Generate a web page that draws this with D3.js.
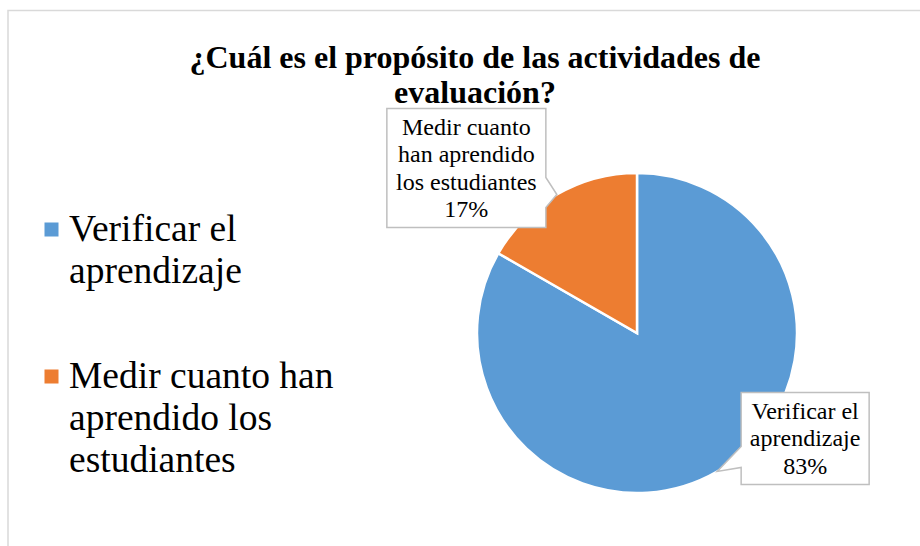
<!DOCTYPE html>
<html>
<head>
<meta charset="utf-8">
<script src="https://cdn.jsdelivr.net/npm/d3@7"></script>
<style>
  html, body { margin: 0; padding: 0; background: #fff; }
  svg { display: block; }
  svg text { font-family: "Liberation Serif", "DejaVu Serif", serif; }
</style>
</head>
<body>
<svg id="chart" width="920" height="546"></svg>
<script>
// datos
const categories = ["Verificar el aprendizaje", "Medir cuanto han aprendido los estudiantes"];
const values = [83.3, 16.7];
const colors = ["#5B9BD5", "#ED7D31"];
const legendLines = [["Verificar el", "aprendizaje"], ["Medir cuanto han", "aprendido los", "estudiantes"]];
const labelLines = [["Verificar el", "aprendizaje"], ["Medir cuanto", "han aprendido", "los estudiantes"]];
const titleLines = ["¿Cuál es el propósito de las actividades de", "evaluación?"];

const FONT = "'Liberation Serif', 'DejaVu Serif', serif";
const svg = d3.select("#chart");

// borde del área del gráfico
svg.append("path")
  .attr("d", "M8,546 V10.5 H920")
  .attr("fill", "none")
  .attr("stroke", "#d9d9d9")
  .attr("stroke-width", 1.5);

// título
svg.append("g").selectAll("text")
  .data(titleLines)
  .enter().append("text")
  .attr("x", 475)
  .attr("y", (_, i) => 68 + i * 35)
  .attr("text-anchor", "middle")
  .attr("font-family", FONT)
  .attr("font-size", 32)
  .attr("font-weight", "bold")
  .attr("fill", "#000")
  .text(d => d);

// pie
const cx = 637, cy = 333, R = 160;
const pie = d3.pie().sort(null).value(d => d)(values);
const arc = d3.arc().innerRadius(0).outerRadius(R);

const g = svg.append("g").attr("transform", `translate(${cx},${cy})`);
g.selectAll("path.slice")
  .data(pie)
  .enter().append("path")
  .attr("class", "slice")
  .attr("d", arc)
  .attr("fill", (_, i) => colors[i])
  .attr("stroke", "#fff")
  .attr("stroke-width", 2.5);

// leyenda
const legend = svg.append("g");
const legendY = [241, 388];
categories.forEach((c, i) => {
  legend.append("rect")
    .attr("x", 44.5).attr("y", legendY[i] - 18.5)
    .attr("width", 14).attr("height", 14)
    .attr("fill", colors[i]);
  legend.append("text")
    .attr("font-family", FONT)
    .attr("font-size", 37.5)
    .attr("fill", "#000")
    .selectAll("tspan")
    .data(legendLines[i])
    .enter().append("tspan")
    .attr("x", 69)
    .attr("y", (_, li) => legendY[i] + li * 42)
    .text(d => d);
});

// etiquetas de datos (callouts)
// caja relativa a la punta (punto del borde en el ángulo medio)
const callouts = [
  { dx: 24, dy: -79, w: 128, h: 92, side: "left", ba: 54, bb: 75 },
  { dx: -170, dy: -86, w: 159, h: 119, side: "right", ba: 69, bb: 99 }
];

pie.forEach((p, i) => {
  const mid = (p.startAngle + p.endAngle) / 2;
  const tx = cx + Math.sin(mid) * R;
  const ty = cy - Math.cos(mid) * R;
  const c = callouts[i];
  const x0 = tx + c.dx, y0 = ty + c.dy, x1 = x0 + c.w, y1 = y0 + c.h;
  let d;
  if (c.side === "left") {
    d = `M${x0},${y0} H${x1} V${y1} H${x0} V${y0 + c.bb} L${tx},${ty} L${x0},${y0 + c.ba} Z`;
  } else {
    d = `M${x0},${y0} H${x1} V${y0 + c.ba} L${tx},${ty} L${x1},${y0 + c.bb} V${y1} H${x0} Z`;
  }
  svg.append("path")
    .attr("d", d)
    .attr("fill", "#fff")
    .attr("stroke", "#bfbfbf")
    .attr("stroke-width", 1.5);

  const lines = labelLines[i].concat([Math.round(values[i]) + "%"]);
  const lh = 27.4;
  const startY = (y0 + y1) / 2 - (lines.length - 1) * lh / 2 + 8;
  svg.append("text")
    .attr("font-family", FONT)
    .attr("font-size", 24)
    .attr("fill", "#000")
    .attr("text-anchor", "middle")
    .selectAll("tspan")
    .data(lines)
    .enter().append("tspan")
    .attr("x", (x0 + x1) / 2)
    .attr("y", (_, li) => startY + li * lh)
    .text(d => d);
});
</script>
</body>
</html>
